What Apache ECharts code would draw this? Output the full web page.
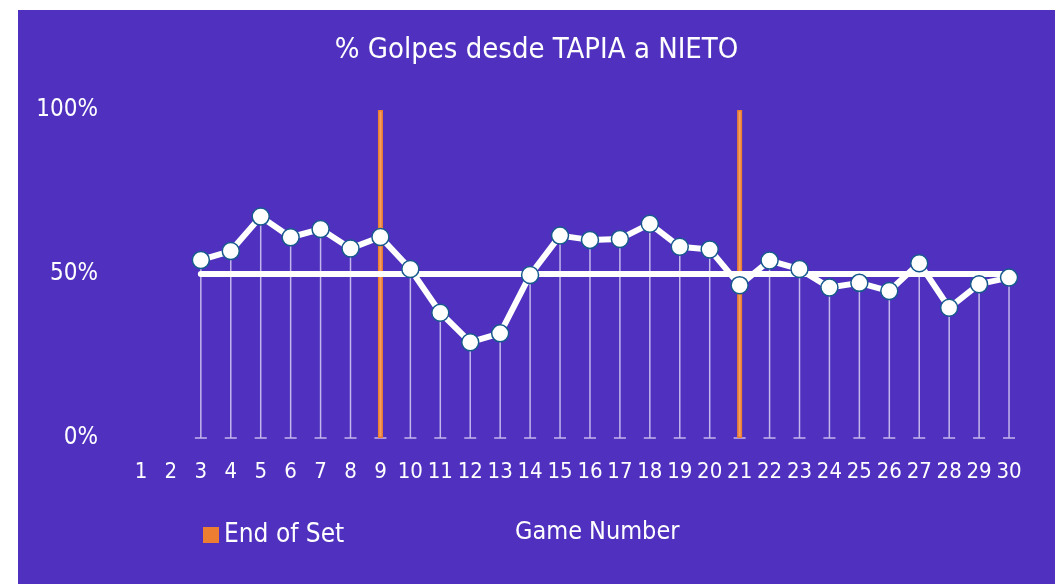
<!DOCTYPE html>
<html>
<head>
<meta charset="utf-8">
<script src="https://cdn.jsdelivr.net/npm/echarts@6/dist/echarts.min.js"></script>
<style>
  html, body { margin: 0; padding: 0; background: #ffffff; }
  #chart { position: absolute; left: 18px; top: 10px; width: 1037px; height: 574px; }
</style>
</head>
<body>
<div id="chart"></div>
<script>
// game numbers on the x axis
const games = ['1','2','3','4','5','6','7','8','9','10','11','12','13','14','15',
  '16','17','18','19','20','21','22','23','24','25','26','27','28','29','30'];
// % of shots from TAPIA to NIETO per game (games 1-2 empty)
const pct = [null, null, 54.3, 57.0, 67.5, 61.2, 63.7, 57.8, 61.3, 51.5, 38.2, 29.2,
  31.9, 49.7, 61.7, 60.4, 60.7, 65.3, 58.3, 57.5, 46.6, 54.1, 51.5, 45.9, 47.3,
  44.8, 53.3, 39.7, 46.9, 48.9];
// reference line
const avg = [null, null, 50, 50, 50, 50, 50, 50, 50, 50, 50, 50, 50, 50, 50, 50,
  50, 50, 50, 50, 50, 50, 50, 50, 50, 50, 50, 50, 50, 50];
// end of set markers
const endOfSet = [null, null, null, null, null, null, null, null, 100, null, null,
  null, null, null, null, null, null, null, null, null, 100, null, null, null,
  null, null, null, null, null, null];
const yTicks = [0, 50, 100];

const font = '"Liberation Sans Narrow", "DejaVu Sans Condensed", "Roboto", sans-serif';
const chart = echarts.init(document.getElementById('chart'));

chart.setOption({
  backgroundColor: '#5031BF',
  animation: false,
  textStyle: { fontFamily: font, color: '#ffffff' },
  title: {
    text: '% Golpes desde TAPIA a NIETO',
    left: 'center',
    top: 21,
    textStyle: { color: '#ffffff', fontSize: 29, fontWeight: 'normal', fontFamily: font }
  },
  legend: {
    data: [{ name: 'End of Set', itemStyle: { color: '#ED7D31', borderWidth: 0 } }],
    left: 180,
    top: 507,
    icon: 'rect',
    itemWidth: 16,
    itemHeight: 16,
    itemGap: 8,
    textStyle: { color: '#ffffff', fontSize: 26, fontFamily: font }
  },
  graphic: [{
    type: 'text',
    left: 497,
    top: 510,
    style: { text: 'Game Number', fill: '#ffffff', font: '25px ' + font }
  }],
  grid: { left: 108, right: 31, top: 100, bottom: 146 },
  xAxis: {
    type: 'category',
    data: games,
    boundaryGap: true,
    axisLine: { show: false },
    axisTick: { show: false },
    axisLabel: { color: '#ffffff', fontSize: 22, margin: 23, fontFamily: font, interval: 0 }
  },
  yAxis: {
    type: 'value',
    min: 0,
    max: 100,
    interval: 50,
    splitLine: { show: false },
    axisLine: { show: false },
    axisTick: { show: false },
    axisLabel: {
      color: '#ffffff', fontSize: 24, margin: 28, fontFamily: font,
      formatter: v => yTicks.includes(v) ? v + '%' : ''
    }
  },
  series: [
    {
      name: 'drop',
      type: 'custom',
      z: 1,
      silent: true,
      data: pct.map((v, i) => [i, v]),
      renderItem: (params, api) => {
        const v = api.value(1);
        if (v == null || isNaN(v)) return null;
        const top = api.coord([api.value(0), v]);
        const bot = api.coord([api.value(0), 0]);
        const st = { stroke: '#C3B6EC', lineWidth: 1.5 };
        return {
          type: 'group',
          children: [
            { type: 'line', shape: { x1: top[0], y1: top[1], x2: bot[0], y2: bot[1] }, style: st },
            { type: 'line', shape: { x1: bot[0] - 6, y1: bot[1], x2: bot[0] + 6, y2: bot[1] }, style: st }
          ]
        };
      }
    },
    {
      name: 'End of Set',
      type: 'bar',
      z: 2,
      data: endOfSet,
      barWidth: 5,
      barGap: '-100%',
      itemStyle: { color: '#F4A060', borderColor: '#ED7D31', borderWidth: 1.5 }
    },
    {
      name: 'avg',
      type: 'line',
      z: 3,
      data: avg,
      showSymbol: false,
      symbol: 'none',
      lineStyle: { color: '#ffffff', width: 6, cap: 'round' }
    },
    {
      name: 'pct',
      type: 'line',
      z: 4,
      data: pct,
      symbol: 'circle',
      symbolSize: 17,
      lineStyle: { color: '#ffffff', width: 6 },
      itemStyle: { color: '#ffffff', borderColor: '#16598C', borderWidth: 1.5 }
    }
  ]
});
</script>
</body>
</html>
